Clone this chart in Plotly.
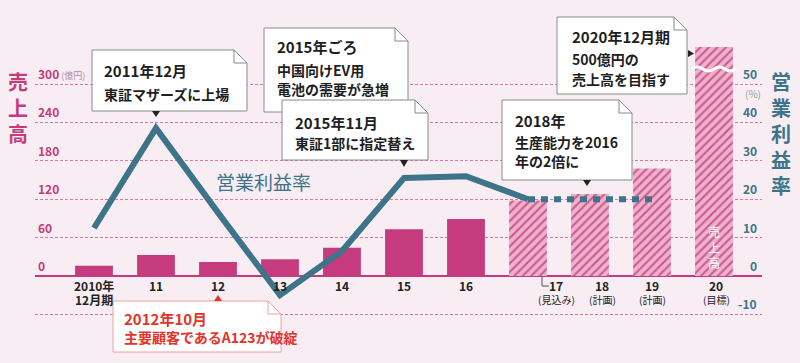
import plotly.graph_objects as go

# ---------------- data ----------------
year_labels = ["2010年", "11", "12", "13", "14", "15", "16", "17", "18", "19", "20"]
year_sub = ["12月期", "", "", "", "", "", "", "(見込み)", "(計画)", "(計画)", "(目標)"]
sales = [16, 33, 22, 26, 44, 73, 89, 118, 128, 168, 500]          # 億円
planned = [False] * 7 + [True] * 4
margin_actual = [12.5, 38.5, 16.5, -5, 6.5, 25.5, 26, 20]          # % 2010-2017
margin_plan = [20, 20, 20]                                         # % 2017-2019
left_ticks = [0, 60, 120, 180, 240, 300]
right_ticks = [-10, 0, 10, 20, 30, 40, 50]
grid_vals = [-60, 60, 120, 180, 240, 300]
AXIS_BREAK = 358   # 2020 bar drawn broken (real value 500)

# ---------------- style ----------------
W, H = 800, 363
BG = "#F7EDF2"
MAG = "#C63B7E"
LIGHT = "#EDB3CD"
STRIPE = "#D0588F"
TEAL = "#3D7489"
GRID = "#DE78A8"
FONT = "Noto Sans CJK JP"

def X(p):
    return p / W

def Y(p):
    return 1 - p / H

def cat_px(i):
    return 94 + 62 * i

idx = list(range(len(year_labels)))
disp = [min(v, AXIS_BREAK) for v in sales]
act_x = [i for i in idx if not planned[i]]
plan_x = [i for i in idx if planned[i]]

fig = go.Figure()
fig.add_bar(
    x=act_x, y=[disp[i] for i in act_x], width=0.61,
    customdata=[sales[i] for i in act_x], hovertemplate="%{customdata}億円<extra></extra>",
    marker=dict(color=MAG, line=dict(width=0)), yaxis="y",
)
fig.add_bar(
    x=plan_x, y=[disp[i] for i in plan_x], width=0.61,
    customdata=[sales[i] for i in plan_x], hovertemplate="%{customdata}億円<extra></extra>",
    marker=dict(color=LIGHT, line=dict(width=0),
                pattern=dict(shape="/", fgcolor=STRIPE, bgcolor=LIGHT,
                             size=6, solidity=0.35, fillmode="replace")),
    yaxis="y",
)
fig.add_scatter(x=idx[:8], y=margin_actual, mode="lines",
                line=dict(color=TEAL, width=6), yaxis="y2")
fig.add_scatter(x=idx[7:10], y=margin_plan, mode="lines",
                line=dict(color=TEAL, width=6, dash="7px,6px"), yaxis="y2")

ann = []
shapes = []

def note(x, y, text, size, color, xref="paper", yref="paper", xanchor="center", yanchor="middle", **kw):
    ann.append(dict(x=x, y=y, xref=xref, yref=yref, xanchor=xanchor, yanchor=yanchor,
                    text=text, showarrow=False, font=dict(size=size, color=color, family=FONT), **kw))

# left tick labels
for v in left_ticks:
    t = f"<b>{v}</b>"
    if v == 300:
        t += "<span style='font-size:9px;color:#B58A9E'> (億円)</span>"
    note(X(36), v, t, 12, MAG, yref="y", xanchor="left", yanchor="bottom")
# right tick labels
for v in right_ticks:
    note(X(759), v, f"<b>{v}</b>", 12, TEAL, yref="y2", xanchor="right", yanchor="bottom")
note(X(753), Y(93), "(%)", 10, "#8FA3AE")

# x labels
label_shift = [0, 0, 0, 0, 0, 0, 0, 28, 12, 0, 2]
for i, (a, b) in enumerate(zip(year_labels, year_sub)):
    note(i, Y(285), f"<b>{a}</b>", 12, "#222", xref="x", xshift=label_shift[i])
    if b:
        bold = i == 0
        note(i, Y(299), (f"<b>{b}</b>" if bold else b), 12 if bold else 10, "#222",
             xref="x", xshift=label_shift[i])
# leader line for 17
shapes.append(dict(type="path", xref="paper", yref="paper",
                   path=f"M {X(cat_px(7)+14)},{Y(277)} L {X(cat_px(7)+14)},{Y(286)} L {X(cat_px(7)+21)},{Y(286)}",
                   line=dict(color="#555", width=1)))

# axis titles
note(X(18), Y(107), "<b>売<br>上<br>高</b>", 20, MAG)
note(X(781), Y(133), "<b>営<br>業<br>利<br>益<br>率</b>", 20, TEAL)
note(X(263), Y(182), "営業利益率", 19, TEAL)
note(10, Y(247), "売<br>上<br>高", 12, "white", xref="x")

# broken bar wave
wy = 69
shapes.append(dict(type="path", xref="paper", yref="paper",
                   path=(f"M {X(692)},{Y(wy)} Q {X(697.5)},{Y(wy-4)} {X(703)},{Y(wy)} "
                         f"T {X(714)},{Y(wy)} T {X(725)},{Y(wy)} T {X(736)},{Y(wy)}"),
                   line=dict(color="white", width=3)))

# callout boxes
def box(x0, y0, x1, y1, color="#8A8A8A", f=13):
    shapes.append(dict(type="path", xref="paper", yref="paper",
                       path=(f"M {X(x0)},{Y(y0)} L {X(x1-f)},{Y(y0)} L {X(x1)},{Y(y0+f)} "
                             f"L {X(x1)},{Y(y1)} L {X(x0)},{Y(y1)} Z"),
                       fillcolor="white", line=dict(color=color, width=1)))
    shapes.append(dict(type="path", xref="paper", yref="paper",
                       path=f"M {X(x1-f)},{Y(y0)} L {X(x1-f)},{Y(y0+f)} L {X(x1)},{Y(y0+f)}",
                       line=dict(color=color, width=1)))

def tri(points, color):
    p = " L ".join(f"{X(a)},{Y(b)}" for a, b in points)
    shapes.append(dict(type="path", xref="paper", yref="paper", path=f"M {p} Z",
                       fillcolor=color, line=dict(color=color, width=0)))

def lines(x, ys, texts, color="#1E1E1E"):
    for k, (yy, t) in enumerate(zip(ys, texts)):
        note(X(x), Y(yy), f"<b>{t}</b>", 15 if k == 0 else 14, color, xanchor="left")

box(92, 50, 247, 111)
tri([(cat_px(1)-4, 111), (cat_px(1)+4, 111), (cat_px(1), 117)], "#222")
lines(102, [71, 94], ["2011年12月", "東証マザーズに上場"])

box(264, 28, 408, 112)
lines(275, [47, 70, 89], ["2015年ごろ", "中国向けEV用", "電池の需要が急増"])

box(282, 100, 428, 160)
tri([(cat_px(5)-4, 160), (cat_px(5)+4, 160), (cat_px(5), 167)], "#222")
lines(293, [122, 143], ["2015年11月", "東証1部に指定替え"])

box(502, 100, 632, 180)
tri([(cat_px(8)-7, 180), (cat_px(8)+1, 180), (cat_px(8)-3, 186)], "#222")
lines(513, [120, 142, 161], ["2018年", "生産能力を2016", "年の2倍に"])

box(557, 17, 687, 94)
tri([(688, 50), (688, 57), (694, 53.5)], "#222")
lines(570, [36, 59, 79], ["2020年12月期", "500億円の", "売上高を目指す"])

box(113, 301, 281, 352, color="#F2A0A0")
tri([(cat_px(2)-4, 301), (cat_px(2)+4, 301), (cat_px(2), 295)], "#E3342B")
lines(122, [318, 337], ["2012年10月", "主要顧客であるA123が破綻"], color="#E3342B")

ymin, ymax = -(H - 276) / 0.64, 276 / 0.64
fig.update_layout(
    width=W, height=H, margin=dict(l=0, r=0, t=0, b=0),
    paper_bgcolor=BG, plot_bgcolor=BG, showlegend=False,
    font=dict(family=FONT), barmode="overlay",
    xaxis=dict(domain=[X(35), X(762)], range=[(35 - 94) / 62, (762 - 94) / 62],
               showticklabels=False, showgrid=False, zeroline=False, ticks=""),
    yaxis=dict(domain=[0, 1], range=[ymin, ymax], tickvals=grid_vals, showticklabels=False,
               showgrid=True, gridcolor=GRID, gridwidth=1, griddash="3px,2px",
               zeroline=True, zerolinecolor=MAG, zerolinewidth=2, ticks=""),
    yaxis2=dict(overlaying="y", side="right", range=[ymin / 6, ymax / 6],
                showgrid=False, zeroline=False, showticklabels=False, ticks=""),
    annotations=ann, shapes=shapes,
)
fig.write_html("out.html", config={"displayModeBar": False},
               post_script="document.body.style.margin='0';document.body.style.overflow='hidden';")
